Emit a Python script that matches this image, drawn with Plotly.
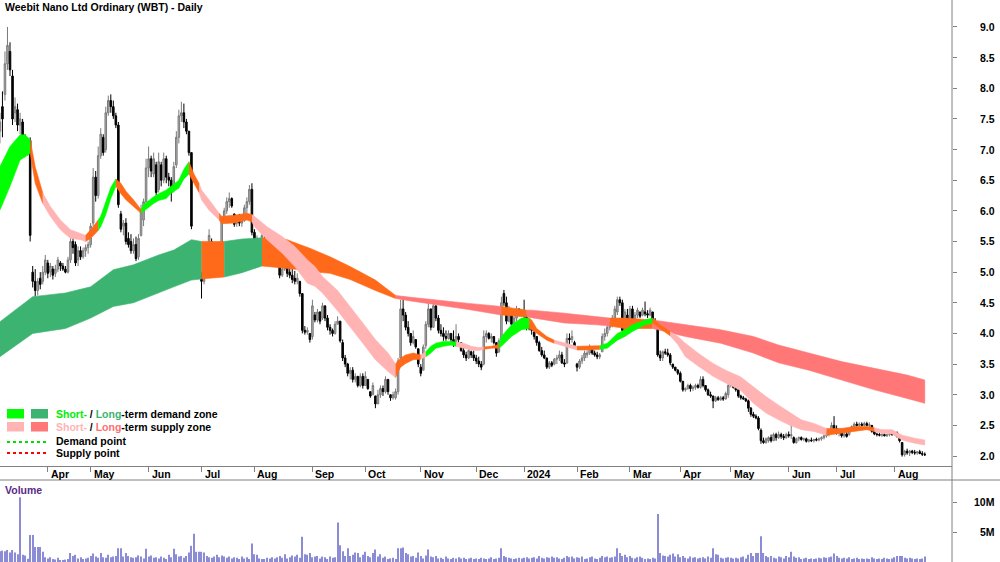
import plotly.graph_objects as go

# ---------------------------------------------------------------- data
FIRST_INDEX = -19  # trading-day index of the first candle (index 0 = 3 Apr 2023)

MONTH_TICK_INDEX = [0, 17, 40, 61, 82, 105, 126, 148, 170, 189, 210, 231, 251, 271, 294, 313, 336]
MONTH_TICK_LABEL = ["Apr", "May", "Jun", "Jul", "Aug", "Sep", "Oct", "Nov", "Dec", "2024",
                    "Feb", "Mar", "Apr", "May", "Jun", "Jul", "Aug"]
PRICE_TICKS = [2.0, 2.5, 3.0, 3.5, 4.0, 4.5, 5.0, 5.5, 6.0, 6.5, 7.0, 7.5, 8.0, 8.5, 9.0]
VOLUME_TICKS = [5e6, 10e6]
VOLUME_TICK_LABEL = ["5M", "10M"]

opens = [
    7.30, 7.70, 7.90, 8.40, 8.60, 8.20, 7.60, 7.65, 7.40, 7.45,
    7.10, 7.00, 7.15, 5.00, 4.85, 4.70, 4.90, 4.85, 5.00, 5.15,
    5.00, 5.05, 4.98, 5.05, 5.15, 5.10, 5.05, 5.00, 5.20, 5.50,
    5.45, 5.20, 5.35, 5.25, 5.35, 5.40, 5.45, 5.80, 6.55, 6.25,
    6.90, 7.20, 7.00, 7.60, 7.80, 7.70, 7.55, 7.40, 5.95, 5.75,
    5.80, 5.55, 5.50, 5.35, 5.45, 5.25, 5.60, 5.85, 6.15, 6.70,
    6.85, 6.60, 6.75, 6.35, 6.75, 6.50, 6.85, 6.55, 6.50, 6.35,
    6.75, 7.20, 7.55, 7.60, 7.45, 7.30, 6.95, 5.25, 4.95, 5.10,
    4.95, 4.85, 5.10, 5.40, 5.50, 5.30, 5.20, 5.25, 5.45, 5.85,
    6.00, 6.15, 6.20, 5.95, 5.80, 5.85, 5.80, 5.85, 6.05, 6.15,
    6.35, 5.65, 5.45, 5.50, 5.35, 5.55, 5.50, 5.35, 5.30, 5.20,
    5.15, 5.20, 4.95, 5.05, 5.15, 5.00, 4.95, 4.90, 4.85, 4.85,
    4.65, 4.05, 4.02, 4.00, 3.95, 4.30, 4.22, 4.35, 4.25, 4.45,
    4.25, 4.10, 4.05, 4.00, 4.15, 4.20, 3.85, 3.60, 3.50, 3.35,
    3.40, 3.25, 3.30, 3.15, 3.30, 3.15, 3.25, 3.05, 3.00, 2.98,
    2.85, 3.00, 3.10, 3.05, 3.25, 3.00, 2.95, 2.95, 3.05, 3.60,
    4.40, 4.30, 4.10, 4.00, 3.85, 3.90, 3.75, 3.45, 3.40, 3.80,
    4.15, 4.40, 4.10, 4.45, 4.25, 4.05, 4.00, 3.95, 3.92, 4.00,
    3.90, 3.85, 3.95, 3.85, 3.72, 3.65, 3.60, 3.70, 3.65, 3.60,
    3.55, 3.50, 3.50, 3.95, 4.00, 3.92, 3.95, 3.85, 3.70, 3.90,
    4.65, 4.50, 4.20, 4.35, 4.15, 4.25, 4.40, 4.30, 4.35, 4.30,
    4.10, 4.08, 4.02, 3.95, 3.85, 3.72, 3.65, 3.60, 3.45, 3.52,
    3.50, 3.58, 3.60, 3.65, 3.52, 3.52, 3.92, 3.90, 3.85, 3.50,
    3.45, 3.55, 3.60, 3.65, 3.68, 3.75, 3.68, 3.65, 3.62, 3.70,
    3.95, 4.00, 4.10, 4.15, 4.25, 4.35, 4.55, 4.50, 4.00, 4.30,
    4.20, 4.40, 4.20, 4.30, 4.35, 4.30, 4.35, 4.32, 4.30, 4.35,
    4.20, 4.10, 3.65, 3.60, 3.70, 3.68, 3.65, 3.50, 3.45, 3.40,
    3.35, 3.22, 3.08, 3.10, 3.15, 3.10, 3.12, 3.15, 3.12, 3.25,
    3.15, 3.08, 3.00, 2.98, 2.90, 2.95, 2.92, 2.95, 2.93, 3.00,
    3.15, 3.20, 3.12, 3.08, 2.98, 2.95, 2.93, 2.90, 2.78, 2.68,
    2.65, 2.62, 2.42, 2.25, 2.22, 2.25, 2.30, 2.25, 2.35, 2.30,
    2.35, 2.32, 2.30, 2.35, 2.33, 2.30, 2.22, 2.28, 2.30, 2.27,
    2.28, 2.24, 2.26, 2.25, 2.27, 2.26, 2.28, 2.30, 2.33, 2.38,
    2.40, 2.50, 2.45, 2.38, 2.42, 2.33, 2.36, 2.35, 2.43, 2.48,
    2.52, 2.50, 2.52, 2.50, 2.53, 2.50, 2.50, 2.40, 2.36, 2.35,
    2.34, 2.35, 2.33, 2.35, 2.36, 2.35, 2.38, 2.30, 2.22, 2.02,
    2.08, 2.05, 2.08, 2.06, 2.05, 2.07, 2.04, 2.03,
]
highs = [
    7.60, 7.95, 8.60, 9.00, 8.75, 8.30, 7.85, 7.75, 7.60, 7.50,
    7.25, 7.20, 7.20, 5.10, 5.05, 4.90, 5.00, 5.10, 5.28, 5.20,
    5.15, 5.10, 5.12, 5.25, 5.18, 5.15, 5.10, 5.25, 5.60, 5.62,
    5.50, 5.42, 5.42, 5.40, 5.45, 5.50, 5.80, 6.70, 6.65, 7.05,
    7.35, 7.25, 7.70, 7.88, 7.90, 7.80, 7.60, 7.45, 6.00, 5.85,
    5.88, 5.65, 5.62, 5.55, 5.58, 5.62, 6.10, 6.20, 6.85, 7.05,
    6.90, 6.95, 6.80, 6.95, 6.80, 6.95, 6.90, 6.62, 6.55, 6.80,
    7.30, 7.65, 7.78, 7.75, 7.50, 7.30, 6.95, 5.25, 5.20, 5.15,
    5.00, 5.15, 5.45, 5.70, 5.55, 5.35, 5.30, 5.50, 5.90, 6.05,
    6.22, 6.30, 6.22, 5.95, 5.92, 5.95, 5.90, 6.10, 6.22, 6.42,
    6.45, 5.70, 5.60, 5.55, 5.65, 5.60, 5.55, 5.40, 5.35, 5.30,
    5.25, 5.25, 5.10, 5.25, 5.20, 5.10, 5.05, 5.02, 4.98, 4.85,
    4.65, 4.12, 4.10, 4.00, 4.55, 4.35, 4.40, 4.36, 4.50, 4.45,
    4.30, 4.15, 4.08, 4.20, 4.28, 4.20, 3.90, 3.65, 3.52, 3.45,
    3.45, 3.35, 3.30, 3.35, 3.35, 3.38, 3.25, 3.05, 3.20, 2.98,
    3.08, 3.15, 3.15, 3.30, 3.25, 3.00, 3.05, 3.10, 3.60, 4.55,
    4.60, 4.35, 4.20, 4.00, 4.05, 3.90, 3.75, 3.50, 3.82, 4.20,
    4.50, 4.40, 4.55, 4.45, 4.30, 4.15, 4.10, 4.05, 4.05, 4.00,
    4.05, 4.15, 4.00, 3.85, 3.78, 3.70, 3.80, 3.72, 3.72, 3.65,
    3.62, 3.55, 4.05, 4.05, 4.02, 4.00, 3.95, 3.85, 3.92, 4.60,
    4.71, 4.60, 4.45, 4.38, 4.30, 4.45, 4.40, 4.40, 4.55, 4.30,
    4.15, 4.12, 4.05, 3.95, 3.88, 3.78, 3.72, 3.60, 3.55, 3.55,
    3.60, 3.65, 3.72, 3.70, 3.58, 4.00, 4.00, 4.05, 3.88, 3.52,
    3.58, 3.65, 3.72, 3.72, 3.82, 3.78, 3.72, 3.70, 3.68, 4.00,
    4.08, 4.15, 4.20, 4.30, 4.45, 4.60, 4.60, 4.55, 4.40, 4.40,
    4.45, 4.45, 4.35, 4.42, 4.35, 4.42, 4.52, 4.38, 4.42, 4.35,
    4.25, 4.12, 3.72, 3.72, 3.75, 3.75, 3.68, 3.50, 3.45, 3.42,
    3.38, 3.22, 3.12, 3.18, 3.18, 3.15, 3.18, 3.18, 3.30, 3.30,
    3.15, 3.10, 3.05, 2.98, 2.98, 2.98, 2.98, 2.98, 3.05, 3.20,
    3.25, 3.22, 3.15, 3.10, 3.00, 2.98, 2.95, 2.92, 2.80, 2.72,
    2.68, 2.65, 2.45, 2.30, 2.30, 2.32, 2.35, 2.38, 2.38, 2.40,
    2.38, 2.36, 2.38, 2.40, 2.62, 2.32, 2.30, 2.32, 2.32, 2.30,
    2.30, 2.28, 2.30, 2.28, 2.30, 2.30, 2.32, 2.35, 2.40, 2.42,
    2.55, 2.65, 2.50, 2.45, 2.45, 2.40, 2.42, 2.45, 2.50, 2.55,
    2.56, 2.55, 2.55, 2.56, 2.56, 2.55, 2.50, 2.42, 2.38, 2.38,
    2.37, 2.37, 2.36, 2.38, 2.38, 2.40, 2.40, 2.30, 2.22, 2.10,
    2.12, 2.10, 2.10, 2.10, 2.08, 2.10, 2.08, 2.06,
]
lows = [
    7.10, 7.20, 7.80, 8.30, 8.20, 7.40, 7.45, 7.30, 7.25, 7.05,
    6.95, 6.90, 5.50, 4.75, 4.60, 4.62, 4.72, 4.80, 4.95, 4.90,
    4.92, 4.88, 4.92, 5.00, 5.02, 5.02, 4.98, 4.98, 5.15, 5.30,
    5.10, 5.10, 5.20, 5.22, 5.25, 5.30, 5.40, 5.75, 6.15, 6.20,
    6.85, 6.90, 6.95, 7.55, 7.60, 7.50, 7.35, 6.05, 5.65, 5.60,
    5.45, 5.40, 5.30, 5.30, 5.18, 5.20, 5.58, 5.75, 6.05, 6.55,
    6.55, 6.55, 6.25, 6.30, 6.40, 6.45, 6.45, 6.40, 6.15, 6.30,
    6.70, 7.10, 7.45, 7.35, 7.25, 6.90, 5.70, 4.90, 4.92, 4.92,
    4.57, 4.80, 5.05, 5.35, 5.20, 5.10, 5.12, 5.20, 5.40, 5.85,
    5.95, 6.05, 6.05, 5.74, 5.74, 5.75, 5.74, 5.82, 5.95, 6.10,
    5.60, 5.32, 5.35, 5.25, 5.30, 5.40, 5.25, 5.20, 5.10, 5.10,
    5.08, 4.90, 4.92, 5.02, 4.92, 4.90, 4.82, 4.80, 4.80, 4.60,
    4.00, 3.98, 3.98, 3.85, 3.90, 4.18, 4.18, 4.15, 4.22, 4.20,
    4.05, 3.98, 3.95, 3.98, 4.15, 3.85, 3.55, 3.45, 3.30, 3.25,
    3.20, 3.20, 3.12, 3.12, 3.10, 3.15, 3.08, 2.95, 3.00, 2.78,
    2.85, 2.95, 2.98, 3.02, 3.00, 2.90, 2.92, 2.92, 3.00, 3.55,
    4.20, 4.05, 3.95, 3.80, 3.82, 3.75, 3.45, 3.30, 3.40, 3.75,
    4.10, 4.05, 4.10, 4.20, 4.00, 3.95, 3.88, 3.88, 3.90, 3.85,
    3.78, 3.80, 3.85, 3.70, 3.60, 3.55, 3.58, 3.60, 3.55, 3.50,
    3.45, 3.40, 3.48, 3.85, 3.90, 3.85, 3.82, 3.62, 3.68, 3.90,
    4.45, 4.15, 4.18, 4.10, 4.12, 4.20, 4.28, 4.28, 4.22, 4.05,
    4.05, 3.98, 3.90, 3.80, 3.70, 3.62, 3.58, 3.42, 3.42, 3.45,
    3.48, 3.50, 3.55, 3.50, 3.45, 3.50, 3.82, 3.85, 3.75, 3.38,
    3.42, 3.50, 3.55, 3.60, 3.65, 3.65, 3.62, 3.58, 3.58, 3.70,
    3.88, 3.95, 4.05, 4.10, 4.20, 4.30, 4.45, 4.00, 3.95, 4.10,
    4.20, 4.15, 4.12, 4.25, 4.25, 4.28, 4.28, 4.25, 4.28, 4.18,
    4.10, 3.62, 3.55, 3.55, 3.65, 3.62, 3.48, 3.42, 3.38, 3.32,
    3.20, 3.05, 3.05, 3.08, 3.05, 3.06, 3.08, 3.10, 3.10, 3.12,
    3.05, 2.98, 2.95, 2.78, 2.88, 2.90, 2.90, 2.90, 2.92, 2.95,
    3.12, 3.10, 3.05, 2.95, 2.92, 2.92, 2.88, 2.72, 2.64, 2.62,
    2.60, 2.42, 2.20, 2.20, 2.20, 2.22, 2.22, 2.25, 2.25, 2.28,
    2.28, 2.26, 2.28, 2.30, 2.28, 2.20, 2.20, 2.24, 2.25, 2.24,
    2.22, 2.22, 2.23, 2.22, 2.24, 2.24, 2.25, 2.27, 2.30, 2.32,
    2.38, 2.40, 2.35, 2.32, 2.30, 2.30, 2.30, 2.33, 2.40, 2.45,
    2.48, 2.47, 2.48, 2.48, 2.48, 2.47, 2.38, 2.34, 2.32, 2.32,
    2.31, 2.32, 2.31, 2.32, 2.33, 2.33, 2.30, 2.22, 1.99, 1.99,
    2.02, 2.00, 2.03, 2.02, 2.02, 2.03, 2.00, 2.00,
]
closes = [
    7.45, 7.50, 8.40, 8.70, 8.30, 7.50, 7.70, 7.40, 7.50, 7.10,
    7.00, 7.15, 5.60, 4.85, 4.70, 4.85, 4.80, 5.00, 5.20, 4.98,
    5.10, 4.95, 5.05, 5.20, 5.10, 5.05, 5.00, 5.20, 5.50, 5.40,
    5.15, 5.35, 5.25, 5.35, 5.40, 5.45, 5.75, 6.55, 6.25, 6.90,
    7.25, 6.95, 7.60, 7.80, 7.70, 7.55, 7.40, 6.10, 5.70, 5.80,
    5.50, 5.45, 5.35, 5.45, 5.22, 5.55, 6.00, 6.15, 6.70, 6.85,
    6.65, 6.85, 6.30, 6.80, 6.50, 6.85, 6.55, 6.50, 6.30, 6.72,
    7.20, 7.55, 7.60, 7.45, 7.30, 6.95, 5.75, 4.95, 5.15, 4.95,
    4.85, 5.10, 5.40, 5.60, 5.30, 5.20, 5.25, 5.45, 5.85, 6.00,
    6.15, 6.20, 6.08, 5.78, 5.88, 5.80, 5.85, 6.05, 6.15, 6.35,
    5.65, 5.40, 5.55, 5.30, 5.60, 5.45, 5.30, 5.25, 5.20, 5.15,
    5.20, 4.95, 5.05, 5.18, 4.98, 4.95, 4.88, 4.85, 4.90, 4.65,
    4.05, 4.02, 4.05, 3.90, 4.45, 4.22, 4.35, 4.20, 4.45, 4.25,
    4.10, 4.05, 4.00, 4.15, 4.20, 3.88, 3.60, 3.50, 3.35, 3.40,
    3.25, 3.30, 3.15, 3.30, 3.15, 3.30, 3.10, 2.98, 3.15, 2.85,
    3.00, 3.10, 3.05, 3.25, 3.05, 2.95, 3.00, 3.05, 3.55, 4.40,
    4.30, 4.10, 4.00, 3.85, 3.95, 3.78, 3.50, 3.35, 3.78, 4.15,
    4.40, 4.10, 4.45, 4.25, 4.05, 4.00, 3.95, 3.92, 4.00, 3.90,
    3.85, 3.95, 3.90, 3.72, 3.65, 3.60, 3.72, 3.65, 3.60, 3.55,
    3.50, 3.45, 3.95, 4.00, 3.92, 3.95, 3.85, 3.68, 3.88, 4.50,
    4.50, 4.20, 4.40, 4.15, 4.25, 4.40, 4.30, 4.35, 4.30, 4.10,
    4.08, 4.05, 3.95, 3.85, 3.72, 3.65, 3.60, 3.45, 3.52, 3.48,
    3.58, 3.60, 3.65, 3.52, 3.50, 3.92, 3.90, 3.95, 3.78, 3.45,
    3.55, 3.60, 3.68, 3.68, 3.78, 3.68, 3.65, 3.62, 3.65, 3.95,
    4.00, 4.10, 4.15, 4.25, 4.40, 4.55, 4.50, 4.05, 4.35, 4.15,
    4.40, 4.20, 4.30, 4.38, 4.28, 4.38, 4.32, 4.30, 4.38, 4.20,
    4.15, 3.65, 3.60, 3.70, 3.68, 3.65, 3.52, 3.45, 3.40, 3.35,
    3.22, 3.08, 3.10, 3.15, 3.10, 3.12, 3.15, 3.12, 3.25, 3.15,
    3.08, 3.00, 2.98, 2.90, 2.95, 2.92, 2.95, 2.93, 3.02, 3.15,
    3.20, 3.12, 3.08, 2.98, 2.95, 2.93, 2.90, 2.78, 2.68, 2.65,
    2.62, 2.45, 2.25, 2.22, 2.28, 2.30, 2.25, 2.35, 2.30, 2.35,
    2.32, 2.30, 2.35, 2.33, 2.35, 2.22, 2.28, 2.30, 2.27, 2.28,
    2.24, 2.26, 2.25, 2.27, 2.26, 2.28, 2.30, 2.33, 2.38, 2.40,
    2.50, 2.45, 2.38, 2.42, 2.33, 2.36, 2.32, 2.43, 2.48, 2.52,
    2.50, 2.52, 2.50, 2.53, 2.50, 2.51, 2.40, 2.36, 2.35, 2.34,
    2.35, 2.33, 2.35, 2.36, 2.35, 2.38, 2.32, 2.25, 2.02, 2.08,
    2.05, 2.08, 2.06, 2.05, 2.07, 2.04, 2.03, 2.02,
]
volume_millions = [
    1.8, 1.9, 1.8, 2.0, 1.6, 2.0, 1.6, 1.3, 10.8, 1.2,
    1.1, 0.55, 4.5, 4.5, 2.5, 2.5, 2.5, 1.7, 0.8, 0.6,
    0.8, 0.5, 0.4, 0.7, 0.3, 0.3, 0.4, 0.5, 1.5, 1.0,
    1.2, 0.6, 0.8, 0.5, 0.6, 0.7, 1.0, 1.4, 0.9, 0.7,
    1.5, 0.8, 0.7, 1.2, 0.8, 0.9, 1.0, 2.3, 2.3, 0.9,
    1.5, 1.0, 0.8, 0.7, 0.8, 1.1, 0.9, 0.6, 2.2, 0.9,
    1.1, 0.7, 0.8, 0.6, 0.9, 0.7, 0.5, 1.2, 0.8, 2.2,
    1.3, 0.9, 1.0, 0.7, 1.0, 1.6, 2.7, 4.7, 1.7, 1.7,
    1.7, 1.6, 1.0, 0.8, 0.7, 0.9, 1.2, 0.8, 1.1, 0.9,
    0.7, 0.9, 0.6, 0.8, 0.7, 0.5, 0.9, 0.6, 0.8, 0.5,
    3.1, 1.3, 1.2, 0.6, 0.5, 0.5, 0.7, 0.6, 0.8, 0.6,
    0.8, 1.0, 0.7, 1.3, 0.6, 0.8, 1.1, 0.9, 1.2, 0.7,
    4.2, 1.3, 1.2, 1.5, 0.8, 0.9, 1.0, 0.6, 0.9, 0.8,
    0.5, 0.9, 0.7, 0.8, 6.6, 2.8, 1.8, 1.0, 2.3, 1.0,
    1.2, 1.6, 1.5, 0.8, 1.2, 1.7, 1.0, 0.8, 1.5, 2.1,
    0.9, 1.3, 0.7, 0.9, 0.5, 0.6, 0.7, 0.5, 2.3, 2.3,
    2.4, 1.5, 1.3, 0.9, 1.0, 0.7, 1.6, 1.0, 0.6, 1.1,
    2.1, 0.9, 0.8, 1.0, 0.6, 0.7, 0.5, 0.9, 0.6, 0.5,
    0.7, 0.6, 0.8, 0.6, 0.7, 0.5, 0.6, 0.7, 0.5, 0.6,
    0.5, 0.7, 0.6, 0.5, 0.6, 0.8, 0.5, 0.6, 0.7, 2.3,
    1.0, 0.8, 0.7, 0.6, 0.5, 0.6, 0.7, 0.6, 0.7, 0.8,
    0.6, 0.7, 0.8, 0.6, 1.0, 0.7, 0.6, 0.8, 0.7, 0.9,
    0.7, 0.8, 0.6, 0.5, 0.7, 1.0, 0.8, 0.9, 0.6, 0.8,
    0.7, 0.9, 0.5, 0.6, 0.8, 0.9, 0.6, 0.5, 0.7, 1.0,
    0.8, 0.9, 0.7, 0.8, 0.9, 2.3, 1.5, 1.0, 1.2, 0.8,
    1.0, 0.7, 0.6, 0.8, 0.9, 0.7, 0.5, 0.6, 0.5, 0.7,
    0.6, 8.0, 1.5, 1.1, 1.0, 0.9, 1.2, 1.4, 0.9, 1.3,
    0.8, 1.0, 0.7, 0.6, 0.9, 0.7, 0.8, 0.6, 0.7, 0.8,
    0.6, 0.9, 0.7, 2.3, 1.3, 1.2, 0.7, 0.6, 0.7, 0.8,
    0.7, 0.6, 0.7, 0.6, 0.8, 0.9, 0.6, 1.2, 1.5, 1.0,
    1.5, 1.5, 4.3, 1.5, 1.0, 0.8, 1.0, 0.7, 0.6, 0.9,
    0.8, 0.6, 1.0, 0.8, 1.7, 0.9, 0.7, 0.8, 0.5, 0.6,
    0.7, 0.5, 0.6, 0.5, 0.6, 0.7, 0.6, 0.8, 0.7, 0.8,
    0.9, 1.4, 1.0, 0.7, 0.6, 0.7, 0.6, 0.8, 0.5, 0.6,
    0.7, 0.5, 0.6, 0.5, 0.6, 0.5, 0.8, 0.6, 0.5, 0.6,
    0.5, 0.7, 0.6, 0.5, 0.6, 0.8, 1.0, 1.0, 1.0, 0.7,
    0.6, 0.7, 0.6, 0.5, 0.6, 0.5, 0.6, 0.9,
]

# long-term zone, read at sample trading-day indices
lt_index = [-19, -6, 7, 17, 26, 34, 44, 50, 57, 61, 70, 77, 85, 95, 100, 104, 112, 120, 130,
            138, 144, 167, 180, 185, 190, 192, 205, 218, 223, 229, 240, 253, 267, 280, 290,
            302, 315, 328, 341, 348]
lt_upper = [4.19, 4.60, 4.66, 4.76, 5.04, 5.12, 5.28, 5.36, 5.53, 5.50, 5.50, 5.54, 5.56, 5.53,
            5.45, 5.39, 5.25, 5.09, 4.87, 4.62, 4.59, 4.49, 4.44, 4.41, 4.38, 4.38, 4.33, 4.27,
            4.25, 4.25, 4.22, 4.14, 4.06, 3.95, 3.81, 3.68, 3.54, 3.43, 3.32, 3.24]
lt_lower = [3.62, 4.00, 4.08, 4.25, 4.44, 4.50, 4.66, 4.76, 4.87, 4.89, 4.92, 4.99, 5.10, 5.06,
            5.04, 5.01, 4.98, 4.88, 4.70, 4.57, 4.53, 4.39, 4.30, 4.29, 4.27, 4.25, 4.17, 4.14,
            4.12, 4.08, 4.08, 3.95, 3.84, 3.68, 3.52, 3.40, 3.24, 3.08, 2.94, 2.86]
lt_state = [(-19, 61, "demand"), (61, 70, "neutral"), (70, 85, "demand"), (85, 138, "neutral"),
            (138, 180, "supply"), (180, 190, "neutral"), (190, 223, "supply"),
            (223, 240, "neutral"), (240, 348, "supply")]

# short-term zone, read at sample trading-day indices
st_index = [-19, -15, -11, -9, -7, -5, -2, 1, 5, 9, 13, 15, 17, 20, 21, 23, 25, 27, 29, 31, 34,
            37, 38, 42, 44, 47, 49, 52, 54, 56, 58, 60, 61, 64, 66, 68, 69, 74, 79, 81, 82, 87,
            93, 98, 103, 106, 109, 115, 120, 125, 130, 135, 138, 140, 142, 145, 148, 150, 152,
            154, 157, 160, 162, 165, 168, 171, 173, 176, 179, 180, 184, 188, 191, 192, 194, 198,
            201, 205, 210, 215, 219, 222, 226, 229, 232, 237, 240, 243, 247, 250, 253, 258, 264,
            269, 275, 280, 285, 290, 294, 299, 304, 309, 315, 320, 325, 328, 331, 335, 339, 344,
            348]
st_upper = [6.72, 7.05, 7.24, 7.24, 7.16, 6.72, 6.29, 6.07, 5.85, 5.69, 5.63, 5.60, 5.69, 5.85,
            5.91, 6.15, 6.38, 6.52, 6.45, 6.32, 6.18, 6.02, 6.10, 6.23, 6.28, 6.34, 6.40, 6.50,
            6.68, 6.80, 6.60, 6.45, 6.34, 6.18, 6.07, 5.96, 5.91, 5.93, 5.96, 5.94, 5.91, 5.74,
            5.58, 5.42, 5.20, 5.09, 4.93, 4.70, 4.44, 4.17, 3.90, 3.68, 3.50, 3.60, 3.65, 3.68,
            3.65, 3.70, 3.79, 3.84, 3.87, 3.87, 3.86, 3.84, 3.79, 3.77, 3.78, 3.79, 3.82, 3.95,
            4.14, 4.25, 4.25, 4.22, 4.08, 3.95, 3.89, 3.84, 3.79, 3.79, 3.80, 3.84, 4.00, 4.06,
            4.14, 4.22, 4.25, 4.14, 4.03, 3.95, 3.84, 3.68, 3.51, 3.40, 3.29, 3.13, 2.97, 2.83,
            2.72, 2.59, 2.53, 2.45, 2.45, 2.48, 2.48, 2.46, 2.43, 2.43, 2.34, 2.29, 2.26]
st_lower = [6.01, 6.40, 6.83, 6.88, 6.94, 6.45, 6.12, 5.91, 5.69, 5.55, 5.53, 5.50, 5.55, 5.68,
            5.74, 5.94, 6.20, 6.40, 6.28, 6.18, 6.07, 5.96, 5.98, 6.12, 6.17, 6.20, 6.29, 6.37,
            6.52, 6.60, 6.45, 6.30, 6.18, 6.01, 5.93, 5.85, 5.79, 5.80, 5.85, 5.82, 5.74, 5.53,
            5.31, 5.09, 4.82, 4.77, 4.66, 4.37, 4.11, 3.84, 3.57, 3.38, 3.28, 3.45, 3.51, 3.57,
            3.58, 3.62, 3.68, 3.76, 3.79, 3.81, 3.79, 3.76, 3.73, 3.72, 3.74, 3.76, 3.76, 3.79,
            3.95, 4.06, 4.08, 4.06, 4.01, 3.89, 3.84, 3.79, 3.73, 3.73, 3.74, 3.76, 3.89, 3.95,
            4.03, 4.14, 4.17, 4.08, 3.96, 3.82, 3.62, 3.47, 3.30, 3.19, 3.07, 2.86, 2.70, 2.59,
            2.51, 2.43, 2.40, 2.34, 2.37, 2.40, 2.43, 2.40, 2.37, 2.36, 2.26, 2.21, 2.18]
st_state = [(-19, -7, "demand"), (-7, -2, "neutral"), (-2, 15, "supply"), (15, 20, "neutral"),
            (20, 27, "demand"), (27, 37, "neutral"), (37, 56, "demand"), (56, 60, "neutral"),
            (60, 68, "supply"), (68, 81, "neutral"), (81, 138, "supply"), (138, 148, "neutral"),
            (148, 150, "supply"), (150, 162, "demand"), (162, 173, "supply"),
            (173, 179, "neutral"), (179, 191, "demand"), (191, 201, "neutral"),
            (201, 210, "supply"), (210, 219, "neutral"), (219, 240, "demand"),
            (240, 247, "neutral"), (247, 309, "supply"), (309, 328, "neutral"),
            (328, 348, "supply")]

# ---------------------------------------------------------------- style
W, H = 1000, 562
FONT = "Liberation Sans Narrow, Arial Narrow, Liberation Sans, Arial, sans-serif"
FONT_SIZE = 10.5
AXIS_GREY = "#808080"
ZONE_COLOUR = {
    ("short", "demand"): "#00ff00",
    ("long", "demand"): "#3cb371",
    ("short", "supply"): "#ffb3b3",
    ("long", "supply"): "#ff7777",
    ("short", "neutral"): "#ff6a1a",
    ("long", "neutral"): "#ff6a1a",
}
PLOT_RIGHT = 952 / W
PRICE_BOTTOM_PX = 466
VOL_TOP_PX = 480


def py(px):  # pixel row -> paper fraction
    return 1 - px / H


fig = go.Figure()


def add_zone(idx, upper, lower, states, term):
    for a, b, state in states:
        sel = [k for k, v in enumerate(idx) if a <= v <= b]
        xs = [idx[k] for k in sel] + [idx[k] for k in reversed(sel)]
        ys = [upper[k] for k in sel] + [lower[k] for k in reversed(sel)]
        c = ZONE_COLOUR[(term, state)]
        fig.add_trace(go.Scatter(x=xs, y=ys, mode="lines", fill="toself", fillcolor=c,
                                 line=dict(color=c, width=0.6), hoverinfo="skip",
                                 showlegend=False, xaxis="x", yaxis="y"))


add_zone(lt_index, lt_upper, lt_lower, lt_state, "long")
add_zone(st_index, st_upper, st_lower, st_state, "short")

days = list(range(FIRST_INDEX, FIRST_INDEX + len(closes)))
assert len(opens) == len(highs) == len(lows) == len(closes) == len(volume_millions)

fig.add_trace(go.Candlestick(
    x=days, open=opens, high=highs, low=lows, close=closes,
    increasing=dict(line=dict(color="#7a7a7a", width=1), fillcolor="#b0b0b0"),
    decreasing=dict(line=dict(color="#000000", width=1), fillcolor="#000000"),
    whiskerwidth=0, showlegend=False, xaxis="x", yaxis="y"))

fig.add_trace(go.Bar(
    x=days, y=[v * 1e6 for v in volume_millions], width=0.45,
    marker=dict(color="#8c8cd6", line=dict(width=0)),
    showlegend=False, xaxis="x2", yaxis="y2"))

bold = dict(family=FONT, size=FONT_SIZE, color="#000000", weight="bold")

fig.update_layout(
    width=W, height=H, margin=dict(l=0, r=0, t=0, b=0),
    paper_bgcolor="white", plot_bgcolor="white", showlegend=False, boxgap=0.12,
    xaxis=dict(domain=[0, PLOT_RIGHT], range=[-18.97, 358.8], anchor="y",
               showline=True, linecolor=AXIS_GREY, linewidth=1,
               ticks="outside", ticklen=5, tickcolor=AXIS_GREY, tickwidth=1,
               tickvals=MONTH_TICK_INDEX, showticklabels=False,
               showgrid=False, zeroline=False, rangeslider=dict(visible=False)),
    xaxis2=dict(domain=[0, PLOT_RIGHT], matches="x", anchor="y2", showline=False,
                showticklabels=False, showgrid=False, zeroline=False, ticks=""),
    yaxis=dict(domain=[py(PRICE_BOTTOM_PX), 1], range=[1.837, 9.44], side="right",
               anchor="x", showline=False, ticks="outside", ticklen=4,
               tickcolor=AXIS_GREY, tickvals=PRICE_TICKS, showticklabels=False,
               showgrid=False, zeroline=False),
    yaxis2=dict(domain=[0, py(VOL_TOP_PX)], range=[0, 13.67e6], side="right",
                anchor="x2", showline=False, ticks="outside", ticklen=4,
                tickcolor=AXIS_GREY, tickvals=VOLUME_TICKS, showticklabels=False,
                showgrid=False, zeroline=False),
)

shapes = [
    dict(type="line", xref="paper", yref="paper", x0=PLOT_RIGHT, x1=PLOT_RIGHT, y0=0, y1=1,
         line=dict(color=AXIS_GREY, width=1)),
    dict(type="line", xref="paper", yref="paper", x0=0, x1=1, y0=py(VOL_TOP_PX),
         y1=py(VOL_TOP_PX), line=dict(color=AXIS_GREY, width=1)),
]


def rect(x0, y0, x1, y1, c):
    return dict(type="rect", xref="paper", yref="paper", x0=x0 / W, x1=x1 / W,
                y0=py(y1), y1=py(y0), fillcolor=c, line=dict(width=0))


shapes += [
    rect(7, 409, 24, 418.5, ZONE_COLOUR[("short", "demand")]),
    rect(31, 409, 48, 418.5, ZONE_COLOUR[("long", "demand")]),
    rect(7, 422, 24, 431.5, ZONE_COLOUR[("short", "supply")]),
    rect(31, 422, 48, 431.5, ZONE_COLOUR[("long", "supply")]),
    dict(type="line", xref="paper", yref="paper", x0=7 / W, x1=47 / W, y0=py(442), y1=py(442),
         line=dict(color="#00e000", width=2, dash="dot")),
    dict(type="line", xref="paper", yref="paper", x0=7 / W, x1=47 / W, y0=py(453), y1=py(453),
         line=dict(color="#ff0000", width=2, dash="dot")),
]
fig.update_layout(shapes=shapes)

ann = []
ann.append(dict(text="Weebit Nano Ltd Ordinary (WBT) - Daily", xref="paper", yref="paper",
                x=3 / W, y=py(7), xanchor="left", yanchor="middle", showarrow=False, font=bold))
ann.append(dict(text="Volume", xref="paper", yref="paper", x=3 / W, y=py(490),
                xanchor="left", yanchor="middle", showarrow=False,
                font=dict(bold, color="#5a2a88")))
legend_rows = [
    ('<span style="color:#00ee00">Short-</span> / <span style="color:#3cb371">Long</span>'
     '-term demand zone', 414),
    ('<span style="color:#ffb3b3">Short-</span> / <span style="color:#ff7070">Long</span>'
     '-term supply zone', 427),
    ("Demand point", 441),
    ("Supply point", 453),
]
for txt, ypx in legend_rows:
    ann.append(dict(text=txt, xref="paper", yref="paper", x=54 / W, y=py(ypx),
                    xanchor="left", yanchor="middle", showarrow=False, font=bold))
for p in PRICE_TICKS:
    ann.append(dict(text=f"{p:.1f}", xref="paper", yref="y", x=997 / W, y=p,
                    xanchor="right", yanchor="middle", showarrow=False, font=bold))
for v, lab in zip(VOLUME_TICKS, VOLUME_TICK_LABEL):
    ann.append(dict(text=lab, xref="paper", yref="y2", x=997 / W, y=v,
                    xanchor="right", yanchor="middle", showarrow=False, font=bold))
for t, lab in zip(MONTH_TICK_INDEX, MONTH_TICK_LABEL):
    ann.append(dict(text=lab, xref="x", yref="paper", x=t, y=py(473.5), xshift=1,
                    xanchor="left", yanchor="middle", showarrow=False, font=bold))
fig.update_layout(annotations=ann)

fig.write_html("out.html")
